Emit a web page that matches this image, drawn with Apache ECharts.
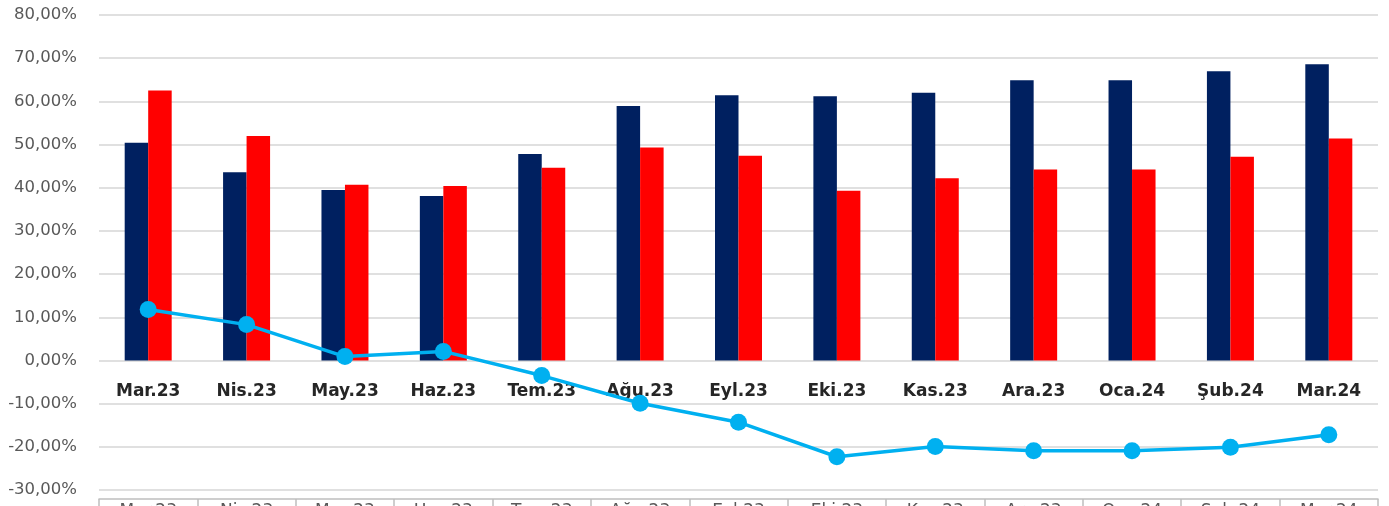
<!DOCTYPE html>
<html>
<head>
<meta charset="utf-8">
<script src="https://cdn.jsdelivr.net/npm/echarts@6/dist/echarts.min.js"></script>
<style>
  html, body { margin: 0; padding: 0; background: #fff; }
  #chart { width: 1389px; height: 506px; }
</style>
</head>
<body>
<div id="chart"></div>
<script>
// months shown on the axis
const months = ['Mar.23', 'Nis.23', 'May.23', 'Haz.23', 'Tem.23', 'Ağu.23', 'Eyl.23',
  'Eki.23', 'Kas.23', 'Ara.23', 'Oca.24', 'Şub.24', 'Mar.24'];

// values in percent
const navyBars = [50.4, 43.6, 39.5, 38.1, 47.8, 58.9, 61.4, 61.2, 62.0, 64.9, 64.9, 67.0, 68.6];
const redBars = [62.5, 52.0, 40.7, 40.4, 44.6, 49.3, 47.4, 39.3, 42.2, 44.2, 44.2, 47.2, 51.4];
const blueLine = [11.8, 8.3, 0.9, 2.1, -3.5, -9.9, -14.3, -22.3, -19.9, -20.9, -20.9, -20.1, -17.2];

const yMin = -30, yMax = 80, yStep = 10;

const gridTop = 15, gridBottom = 16;
const chartH = 506;

const chart = echarts.init(document.getElementById('chart'));

const pct = v => v.toFixed(2).replace('.', ',') + '%';

// distance from the bottom of the plot up to the 0 line
const plotH = chartH - gridTop - gridBottom;
const zeroLift = plotH * (0 - yMin) / (yMax - yMin);

const option = {
  animation: false,
  grid: {
    left: 99,
    right: 11,
    top: gridTop,
    bottom: gridBottom,
    outerBoundsMode: 'none'
  },
  xAxis: [
    {
      type: 'category',
      data: months,
      position: 'bottom',
      // moved up onto the 0 line
      offset: -zeroLift,
      axisLine: { show: false, onZero: false },
      axisTick: { show: false },
      axisLabel: {
        interval: 0,
        margin: 23,
        fontFamily: 'DejaVu Sans',
        fontWeight: 'bold',
        fontSize: 17,
        color: '#262626'
      }
    },
    {
      // boxed category row at the bottom (cut off by the frame)
      type: 'category',
      data: months,
      position: 'bottom',
      offset: 9,
      axisLine: { show: true, onZero: false, lineStyle: { color: '#bfbfbf', width: 1.5 } },
      axisTick: { show: true, interval: 0, length: 12, lineStyle: { color: '#bfbfbf', width: 1.5 } },
      axisLabel: {
        interval: 0,
        margin: 4,
        fontFamily: 'DejaVu Sans',
        fontSize: 17,
        color: '#595959'
      }
    }
  ],
  yAxis: {
    type: 'value',
    min: yMin,
    max: yMax,
    interval: yStep,
    axisLine: { show: false },
    axisTick: { show: false },
    splitLine: { lineStyle: { color: '#e0e0e0', width: 2 } },
    axisLabel: {
      margin: 22,
      fontFamily: 'DejaVu Sans',
      fontSize: 16.5,
      color: '#595959',
      formatter: pct
    }
  },
  series: [
    {
      type: 'bar',
      data: navyBars,
      barWidth: 23.5,
      barGap: '0%',
      itemStyle: { color: '#002060' }
    },
    {
      type: 'bar',
      data: redBars,
      barWidth: 23.5,
      barGap: '0%',
      itemStyle: { color: '#ff0000' }
    },
    {
      type: 'line',
      data: blueLine,
      symbol: 'circle',
      symbolSize: 17,
      z: 5,
      lineStyle: { color: '#00b0f0', width: 3.5 },
      itemStyle: { color: '#00b0f0' }
    }
  ]
};

chart.setOption(option);
</script>
</body>
</html>
